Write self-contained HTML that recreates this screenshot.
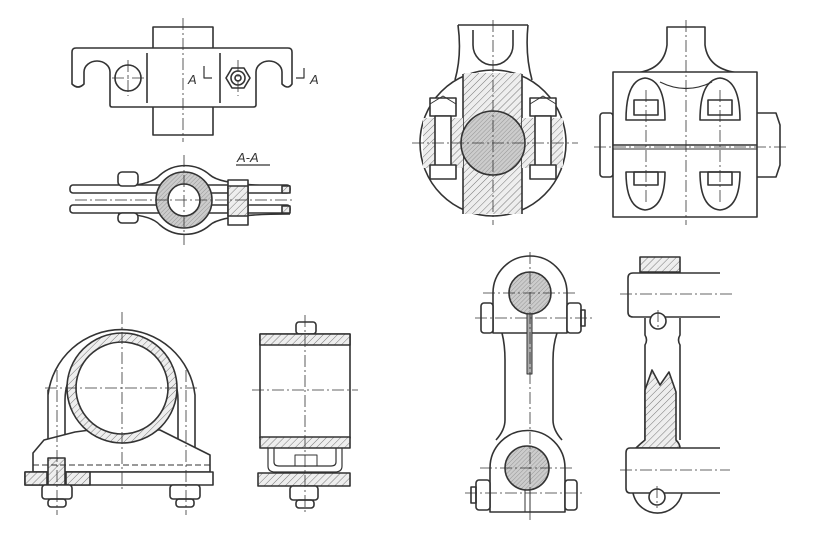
<!DOCTYPE html>
<html><head><meta charset="utf-8"><style>
html,body{margin:0;padding:0;background:#fff;}
svg{display:block;}
text{font-family:"Liberation Sans",sans-serif;font-style:italic;fill:#333;}
</style></head><body>
<svg width="815" height="545" viewBox="0 0 815 545" xmlns="http://www.w3.org/2000/svg">
<defs>
<pattern id="h" width="5" height="5" patternUnits="userSpaceOnUse" patternTransform="rotate(45)">
<rect width="5" height="5" fill="#eee"/><line x1="0" y1="0" x2="0" y2="5" stroke="#777" stroke-width="1"/></pattern>
<pattern id="s" width="3" height="3" patternUnits="userSpaceOnUse" patternTransform="rotate(45)">
<rect width="3" height="3" fill="#ccc"/><line x1="0" y1="0" x2="0" y2="3" stroke="#888" stroke-width="0.8"/></pattern>
</defs>
<g fill="none" stroke="#333" stroke-width="1.6" stroke-linejoin="round">

<!-- TOP LEFT plan -->
<rect x="153" y="27" width="60" height="108" fill="#fff"/>
<path d="M72,52 Q72,48 76,48 H288 Q292,48 292,52 V84 Q288,90 282,84 V72 A13,11 0 0 0 256,72 V105 Q256,107 253,107 H112 Q110,107 110,105 V72 A13,11 0 0 0 84,72 V84 Q78,90 72,84 Z" fill="#fff"/>
<circle cx="128" cy="78" r="13"/>
<line x1="147" y1="53" x2="147" y2="103"/><line x1="220" y1="53" x2="220" y2="103"/>
<polygon points="226,78 232,68 244,68 250,78 244,88 232,88"/>
<circle cx="238" cy="78" r="7"/><circle cx="238" cy="78" r="3"/>
<path d="M204,66 V78 H212" stroke-width="1.2"/><path d="M296,78 H304 V68" stroke-width="1.2"/>
<g stroke-width="0.8" stroke-dasharray="12,3,2,3"><line x1="183" y1="18" x2="183" y2="142"/><line x1="112" y1="78" x2="144" y2="78"/><line x1="128" y1="60" x2="128" y2="96"/><line x1="238" y1="60" x2="238" y2="96"/></g>

<!-- A-A section -->
<line x1="236" y1="165" x2="270" y2="165" stroke-width="1.2"/>
<path d="M118,186 Q150,186 160,175 A38,38 0 0 1 210,175 Q222,186 290,186" />
<path d="M118,214 Q150,214 160,225 A38,38 0 0 0 210,225 Q222,214 290,214"/>
<rect x="70" y="185" width="220" height="8" rx="3" fill="#fff"/>
<rect x="70" y="205" width="220" height="8" rx="3" fill="#fff"/>
<circle cx="184" cy="200" r="28" fill="url(#s)"/>
<circle cx="184" cy="200" r="16" fill="#fff"/>
<rect x="118" y="172" width="20" height="14" rx="4" fill="#fff"/><rect x="118" y="213" width="20" height="10" rx="4" fill="#fff"/>
<rect x="228" y="180" width="20" height="45" fill="#fff"/><rect x="228" y="186" width="20" height="30" fill="url(#h)"/>
<rect x="282" y="186" width="8" height="7" fill="url(#h)"/><rect x="282" y="206" width="8" height="7" fill="url(#h)"/>
<g stroke-width="0.8" stroke-dasharray="12,3,2,3"><line x1="184" y1="155" x2="184" y2="245"/><line x1="75" y1="200" x2="295" y2="200"/></g>

<!-- TOP RIGHT left view -->
<path d="M458,25 Q462,55 455,80 M528,25 Q525,55 532,80" />
<path d="M473,30 V45 A20,20 0 0 0 513,45 V30"/>
<line x1="458" y1="25" x2="528" y2="25"/>
<circle cx="493" cy="143" r="73" fill="#fff"/>
<path d="M463,73 H522 V214 H463 Z" fill="url(#h)" stroke="none"/>
<line x1="463" y1="74" x2="463" y2="214"/><line x1="522" y1="74" x2="522" y2="214"/>
<path d="M423,118 H463 V168 H423 Z M522,118 H563 V168 H522 Z" fill="url(#h)" stroke="none"/>
<circle cx="493" cy="143" r="32" fill="url(#s)"/>
<rect x="430" y="98" width="26" height="18" fill="#fff"/><rect x="435" y="116" width="16" height="60" fill="#fff"/><rect x="430" y="165" width="26" height="14" fill="#fff"/>
<rect x="530" y="98" width="26" height="18" fill="#fff"/><rect x="535" y="116" width="16" height="60" fill="#fff"/><rect x="530" y="165" width="26" height="14" fill="#fff"/>
<path d="M430,104 L443,96 L456,104 M530,104 L543,96 L556,104" stroke-width="1"/>
<g stroke-width="0.8" stroke-dasharray="12,3,2,3"><line x1="412" y1="143" x2="578" y2="143"/><line x1="493" y1="20" x2="493" y2="225"/></g>

<!-- TOP RIGHT right view -->
<path d="M667,27 H705 V45 Q708,70 740,73 H635 Q664,70 667,45 Z" fill="#fff"/>
<rect x="600" y="113" width="13" height="64" rx="3" fill="#fff"/>
<path d="M757,113 H776 L780,125 V165 L776,177 H757" fill="#fff"/>
<rect x="613" y="72" width="144" height="145" fill="#fff"/>
<line x1="613" y1="145" x2="757" y2="145"/><line x1="613" y1="149" x2="757" y2="149" stroke-width="1"/>
<path d="M660,82 Q686,95 712,82" stroke-width="1.2"/>
<path d="M626,120 Q626,80 645,78 Q665,80 665,120 Z"/><rect x="634" y="100" width="24" height="15"/>
<path d="M700,120 Q700,80 720,78 Q740,80 740,120 Z"/><rect x="708" y="100" width="24" height="15"/>
<path d="M626,172 Q626,208 645,210 Q665,208 665,172 Z"/><rect x="634" y="172" width="24" height="13"/>
<path d="M700,172 Q700,208 720,210 Q740,208 740,172 Z"/><rect x="708" y="172" width="24" height="13"/>
<g stroke-width="0.8" stroke-dasharray="12,3,2,3"><line x1="686" y1="20" x2="686" y2="225"/><line x1="594" y1="147" x2="788" y2="147"/><line x1="646" y1="90" x2="646" y2="205"/><line x1="720" y1="90" x2="720" y2="205"/></g>

<!-- BOTTOM LEFT front -->
<path d="M48,390 V395 A74,74 0 0 1 195,395 V480 H178 V400 A56,56 0 0 0 65,400 V480 H48 Z" fill="#fff"/>
<path d="M33,453 L44,440 L75,432 L90,430 L160,430 L180,440 L210,455 V472 H33 Z" fill="#fff"/>
<circle cx="122" cy="388" r="55" fill="url(#h)"/><circle cx="122" cy="388" r="46" fill="#fff"/>
<rect x="25" y="472" width="188" height="13" fill="#fff"/>
<rect x="25" y="472" width="22" height="13" fill="url(#h)"/><rect x="66" y="472" width="24" height="13" fill="url(#h)"/>
<rect x="48" y="458" width="17" height="27" fill="url(#h)"/>
<line x1="33" y1="465" x2="210" y2="465" stroke-dasharray="6,3" stroke-width="1"/>
<rect x="42" y="485" width="30" height="14" rx="3" fill="#fff"/><rect x="48" y="499" width="18" height="8" rx="3"/>
<rect x="170" y="485" width="30" height="14" rx="3" fill="#fff"/><rect x="176" y="499" width="18" height="8" rx="3"/>
<g stroke-width="0.8" stroke-dasharray="12,3,2,3"><line x1="122" y1="312" x2="122" y2="490"/><line x1="45" y1="388" x2="200" y2="388"/><line x1="57" y1="370" x2="57" y2="515"/><line x1="186" y1="370" x2="186" y2="515"/></g>

<!-- BOTTOM LEFT side -->
<rect x="296" y="322" width="20" height="12" rx="3" fill="#fff"/>
<rect x="260" y="334" width="90" height="104" fill="#fff"/>
<rect x="260" y="334" width="90" height="11" fill="url(#h)"/>
<rect x="260" y="437" width="90" height="11" fill="url(#h)"/>
<path d="M268,448 V466 Q268,472 275,472 H335 Q342,472 342,466 V448 M274,448 V462 Q274,466 279,466 H331 Q336,466 336,462 V448" stroke-width="1.2"/>
<rect x="295" y="455" width="22" height="11" stroke-width="1"/>
<rect x="258" y="473" width="92" height="13" fill="url(#h)"/>
<rect x="290" y="486" width="28" height="14" rx="3" fill="#fff"/><rect x="296" y="500" width="18" height="8" rx="3"/>
<g stroke-width="0.8" stroke-dasharray="12,3,2,3"><line x1="305" y1="315" x2="305" y2="515"/><line x1="252" y1="390" x2="358" y2="390"/></g>

<!-- BOTTOM RIGHT link front -->
<path d="M502,333 Q505,345 505,360 V420 Q505,430 496,440 M557,333 Q553,345 553,360 V420 Q553,430 562,440"/>
<path d="M493,333 V293 A37,37 0 0 1 567,293 V333 Z" fill="#fff"/>
<circle cx="530" cy="293" r="21" fill="url(#s)"/>
<rect x="527" y="314" width="5" height="60" fill="#aaa" stroke-width="1"/>
<path d="M490,512 V468 A37,37 0 0 1 565,468 V512 Z" fill="#fff"/>
<circle cx="527" cy="468" r="22" fill="url(#s)"/>
<line x1="525" y1="490" x2="525" y2="512" stroke-width="1"/><line x1="530" y1="490" x2="530" y2="512" stroke-width="1"/>
<rect x="481" y="303" width="12" height="30" rx="3" fill="#fff"/><rect x="567" y="303" width="14" height="30" rx="3" fill="#fff"/><rect x="581" y="310" width="4" height="16"/>
<rect x="476" y="480" width="14" height="30" rx="3" fill="#fff"/><rect x="471" y="487" width="5" height="16"/><rect x="565" y="480" width="12" height="30" rx="3" fill="#fff"/>
<g stroke-width="0.8" stroke-dasharray="12,3,2,3"><line x1="530" y1="252" x2="530" y2="520"/><line x1="483" y1="293" x2="575" y2="293"/><line x1="475" y1="318" x2="592" y2="318"/><line x1="480" y1="468" x2="575" y2="468"/><line x1="465" y1="493" x2="585" y2="493"/></g>

<!-- BOTTOM RIGHT link side -->
<rect x="640" y="257" width="40" height="15" fill="url(#h)"/>
<path d="M645,318 V335 Q648,340 645,345 V440 M680,318 V335 Q677,340 680,345 V440" fill="#fff"/>
<path d="M645,390 L652,370 L660,385 L669,372 L676,392 V440 Q680,444 680,448 H636 Q640,444 645,440 Z" fill="url(#h)"/>
<path d="M720,273 H633 Q628,273 628,278 V312 Q628,317 633,317 H720" fill="#fff"/>
<circle cx="658" cy="321" r="8" fill="#fff"/>
<path d="M720,448 H630 Q626,448 626,453 V488 Q626,493 630,493 H720" fill="#fff"/>
<path d="M633,493 A25,25 0 0 0 682,493"/>
<circle cx="657" cy="497" r="8" fill="#fff"/>
<g stroke-width="0.8" stroke-dasharray="12,3,2,3"><line x1="620" y1="294" x2="735" y2="294"/><line x1="620" y1="470" x2="730" y2="470"/><line x1="658" y1="310" x2="658" y2="330"/><line x1="657" y1="486" x2="657" y2="508"/></g>
</g>
<text x="188" y="84" font-size="13">A</text>
<text x="310" y="84" font-size="13">A</text>
<text x="237" y="162" font-size="13">A-A</text>
</svg>
</body></html>
